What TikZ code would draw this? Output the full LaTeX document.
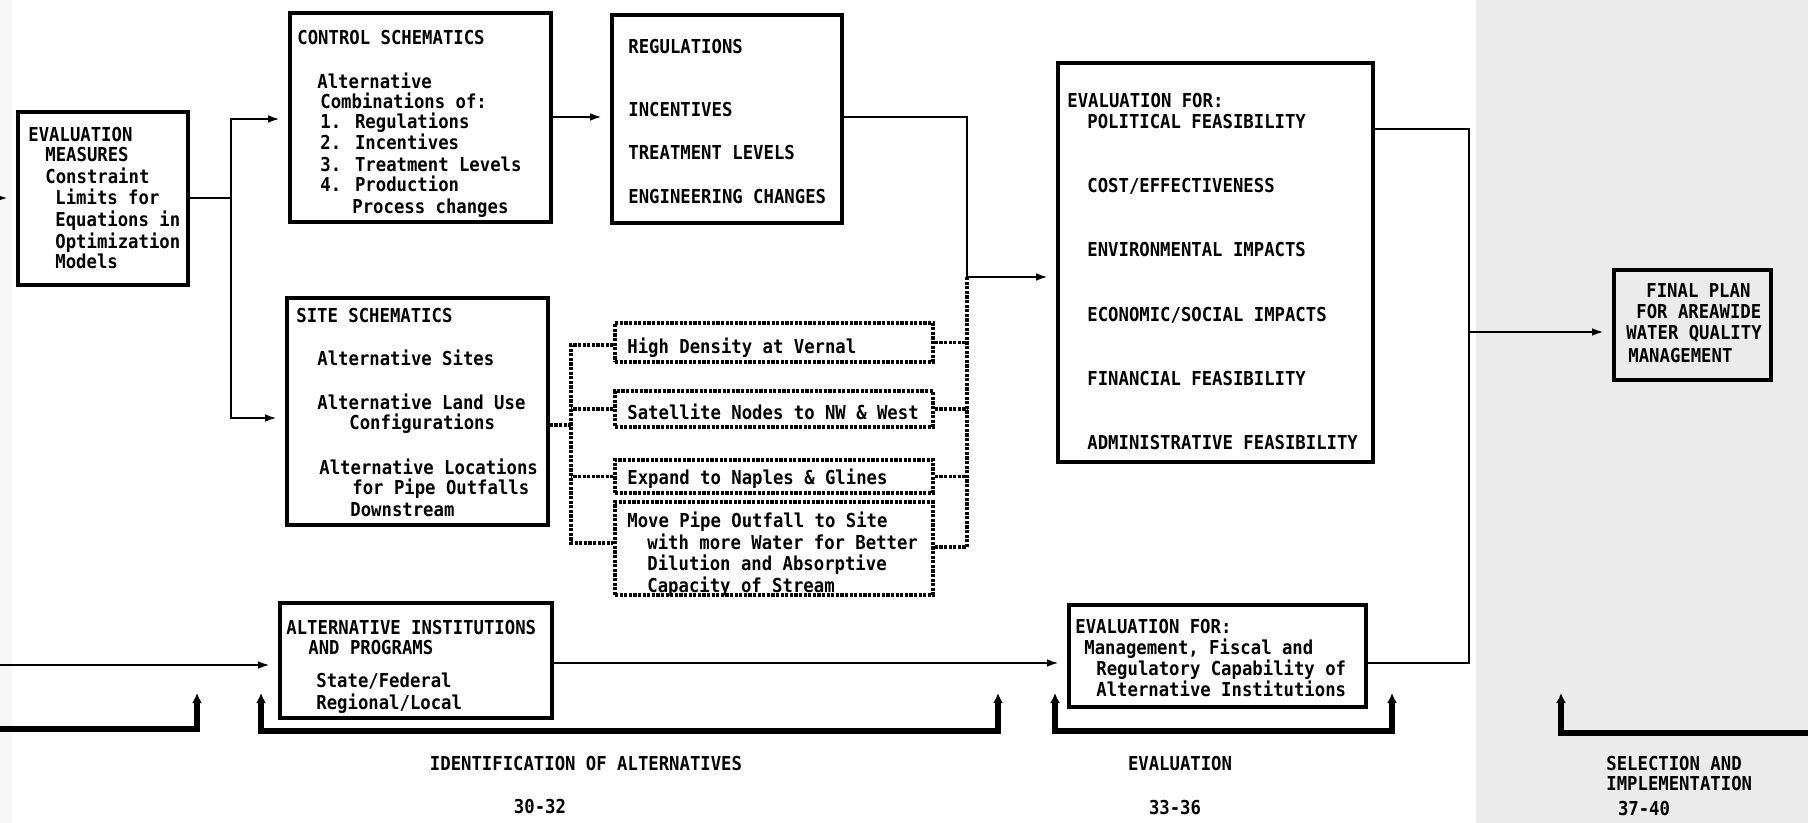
\documentclass[tikz,border=0pt]{standalone}
\usepackage{fontspec}
\newfontfamily\tfont[FakeStretch=0.9]{DejaVu Sans Mono Bold}
\usetikzlibrary{fit,arrows.meta}
\begin{document}
\begin{tikzpicture}[x=0.5pt,y=-0.5pt,
  box/.style={draw, line width=1.8pt, inner sep=0pt},
  dbox/.style={draw, line width=1.7pt, dash pattern=on 1.6pt off 0.7pt, inner sep=0pt},
  txt/.style={inner sep=0pt, anchor=base west, font=\tfont\fontsize{9.6pt}{11pt}\selectfont},
  ctxt/.style={inner sep=0pt, anchor=base, font=\tfont\fontsize{9.6pt}{11pt}\selectfont},
  conn/.style={line width=1.3pt},
  arr/.style={conn, -{Latex[length=6pt,width=3.8pt]}, shorten >=4pt},
  dconn/.style={line width=1.7pt, dash pattern=on 1.6pt off 0.7pt},
  brk/.style={line width=3.2pt, {Latex[length=5pt,width=5pt]}-{Latex[length=5pt,width=5pt]}},
  brkr/.style={line width=3.2pt, -{Latex[length=5pt,width=5pt]}},
  brkl/.style={line width=3.2pt, {Latex[length=5pt,width=5pt]}-}
]
\fill[black!8] (1476,0) rectangle (1808,823);
\fill[black!3] (0,0) rectangle (12,823);
\useasboundingbox (0,0) rectangle (1808,823);

% boxes
\node[box, fit={(18,112) (188,285)}] (ev) {};
\node[box, fit={(290,13) (551,222)}] (ctrl) {};
\node[box, fit={(612,15) (842,223)}] (regs) {};
\node[box, fit={(287,298) (548,525)}] (site) {};
\node[box, fit={(280,603) (552,718)}] (ai) {};
\node[box, fit={(1058,63) (1373,462)}] (evm) {};
\node[box, fit={(1069,605) (1366,707)}] (ev2) {};
\node[box, fit={(1614,270) (1771,380)}] (fp) {};
\node[dbox, fit={(615,323) (933,362)}] (d1) {};
\node[dbox, fit={(615,391) (933,427)}] (d2) {};
\node[dbox, fit={(615,460) (933,493)}] (d3) {};
\node[dbox, fit={(615,502) (933,595)}] (d4) {};

% texts: evaluation measures
\node[txt] (ev1) at (28,142) {EVALUATION};
\node[txt] (ev2t) at (45,162) {MEASURES};
\node[txt] (ev3) at (45,184) {Constraint};
\node[txt] (ev4) at (55,205) {Limits for};
\node[txt] (ev5) at (55,227) {Equations in};
\node[txt] (ev6) at (55,249) {Optimization};
\node[txt] (ev7) at (55,269) {Models};
% control schematics
\node[txt] (c1) at (297,45) {CONTROL SCHEMATICS};
\node[txt] (c2) at (317,89) {Alternative};
\node[txt] (c3) at (320,109) {Combinations of:};
\node[txt] (c4) at (320,129) {1. Regulations};
\node[txt] (c5) at (320,150) {2. Incentives};
\node[txt] (c6) at (320,172) {3. Treatment Levels};
\node[txt] (c7) at (320,192) {4. Production};
\node[txt] (c8) at (352,214) {Process changes};
% regulations
\node[txt] (r1) at (628,54) {REGULATIONS};
\node[txt] (r2) at (628,117) {INCENTIVES};
\node[txt] (r3) at (628,160) {TREATMENT LEVELS};
\node[txt] (r4) at (628,204) {ENGINEERING CHANGES};
% site schematics
\node[txt] (s1) at (296,323) {SITE SCHEMATICS};
\node[txt] (s2) at (317,365) {Alternative Sites};
\node[txt] (s3) at (317,409) {Alternative Land Use};
\node[txt] (s4) at (349,429) {Configurations};
\node[txt] (s5) at (319,474) {Alternative Locations};
\node[txt] (s6) at (352,494) {for Pipe Outfalls};
\node[txt] (s7) at (350,516) {Downstream};
% dotted boxes
\node[txt] (dt1) at (627,354) {High Density at Vernal};
\node[txt] (dt2) at (627,419) {Satellite Nodes to NW \& West};
\node[txt] (dt3) at (627,484) {Expand to Naples \& Glines};
\node[txt] (dt4) at (627,527) {Move Pipe Outfall to Site};
\node[txt] (dt5) at (647,549) {with more Water for Better};
\node[txt] (dt6) at (647,570) {Dilution and Absorptive};
\node[txt] (dt7) at (647,592) {Capacity of Stream};
% alternative institutions
\node[txt] (a1) at (286,634) {ALTERNATIVE INSTITUTIONS};
\node[txt] (a2) at (308,654) {AND PROGRAMS};
\node[txt] (a3) at (316,687) {State/Federal};
\node[txt] (a4) at (316,709) {Regional/Local};
% evaluation main
\node[txt] (e1) at (1067,108) {EVALUATION FOR:};
\node[txt] (e2) at (1087,129) {POLITICAL FEASIBILITY};
\node[txt] (e3) at (1087,193) {COST/EFFECTIVENESS};
\node[txt] (e4) at (1087,257) {ENVIRONMENTAL IMPACTS};
\node[txt] (e5) at (1087,322) {ECONOMIC/SOCIAL IMPACTS};
\node[txt] (e6) at (1087,386) {FINANCIAL FEASIBILITY};
\node[txt] (e7) at (1087,449) {ADMINISTRATIVE FEASIBILITY};
% evaluation 2
\node[txt] (f1) at (1075,633) {EVALUATION FOR:};
\node[txt] (f2) at (1084,654) {Management, Fiscal and};
\node[txt] (f3) at (1096,675) {Regulatory Capability of};
\node[txt] (f4) at (1096,696) {Alternative Institutions};
% final plan
\node[txt] (p1) at (1646,298) {FINAL PLAN};
\node[txt] (p2) at (1636,319) {FOR AREAWIDE};
\node[txt] (p3) at (1626,340) {WATER QUALITY};
\node[txt] (p4) at (1628,363) {MANAGEMENT};
% bottom labels
\node[ctxt] (l1) at (586,770) {IDENTIFICATION OF ALTERNATIVES};
\node[ctxt] (l2) at (540,813) {30-32};
\node[ctxt] (l3) at (1180,770) {EVALUATION};
\node[ctxt] (l4) at (1175,814) {33-36};
\node[txt] (l5) at (1606,770) {SELECTION AND};
\node[txt] (l6) at (1606,790) {IMPLEMENTATION};
\node[ctxt] (l7) at (1644,815) {37-40};

% coordinates
\coordinate (inL) at (0,198);
\coordinate (ja) at (231,119);
\coordinate (jm) at (231,198);
\coordinate (jb) at (231,418);
\coordinate (rb) at (967,117);
\coordinate (rc) at (967,277);
\coordinate (lbt) at (571,345);
\coordinate (lbm) at (571,425);
\coordinate (lbb) at (571,543);
\coordinate (rbb) at (967,547);
\coordinate (inL2) at (0,665);
\coordinate (rv1) at (1469,129);
\coordinate (rv2) at (1469,663);
\coordinate (rv3) at (1469,332);

% connectors
\draw[arr] (inL) -- (ev.west|-inL);
\draw[conn] (ev.east|-jm) -- (jm);
\draw[arr] (jb) -- (ja) -- (ctrl.west|-ja);
\draw[arr] (ja) -- (jb) -- (site.west|-jb);
\draw[arr] (ctrl.east|-rb) -- (regs.west|-rb);
\draw[arr] (regs.east|-rb) -- (rb) -- (rc) -- (evm.west|-rc);
\draw[dconn] (site.east|-lbm) -- (lbm);
\draw[dconn] (d1.west|-lbt) -- (lbt) -- (lbb) -- (d4.west|-lbb);
\draw[dconn] (d2.west) -- (d2.west-|lbt);
\draw[dconn] (d3.west) -- (d3.west-|lbt);
\draw[dconn] (rc) -- (rbb) -- (d4.east|-rbb);
\draw[dconn] (d1.east) -- (d1.east-|rc);
\draw[dconn] (d2.east) -- (d2.east-|rc);
\draw[dconn] (d3.east) -- (d3.east-|rc);
\draw[arr] (inL2) -- (ai.west|-inL2);
\draw[arr] (ai.east|-rv2) -- (ev2.west|-rv2);
\draw[conn] (evm.east|-rv1) -- (rv1) -- (rv2) -- (ev2.east|-rv2);
\draw[arr] (rv3) -- (fp.west|-rv3);

% brackets
\coordinate (b1a) at (0,729);
\coordinate (b1b) at (197,729);
\coordinate (b1c) at (197,693);
\coordinate (b2a) at (261,693);
\coordinate (b2b) at (261,731);
\coordinate (b2c) at (998,731);
\coordinate (b2d) at (998,693);
\coordinate (b3a) at (1055,693);
\coordinate (b3b) at (1055,731);
\coordinate (b3c) at (1392,731);
\coordinate (b3d) at (1392,693);
\coordinate (b4a) at (1561,693);
\coordinate (b4b) at (1561,733);
\coordinate (b4c) at (1808,733);
\draw[brkr] (b1a) -- (b1b) -- (b1c);
\draw[brk] (b2a) -- (b2b) -- (b2c) -- (b2d);
\draw[brk] (b3a) -- (b3b) -- (b3c) -- (b3d);
\draw[brkl] (b4a) -- (b4b) -- (b4c);
\end{tikzpicture}
\end{document}
